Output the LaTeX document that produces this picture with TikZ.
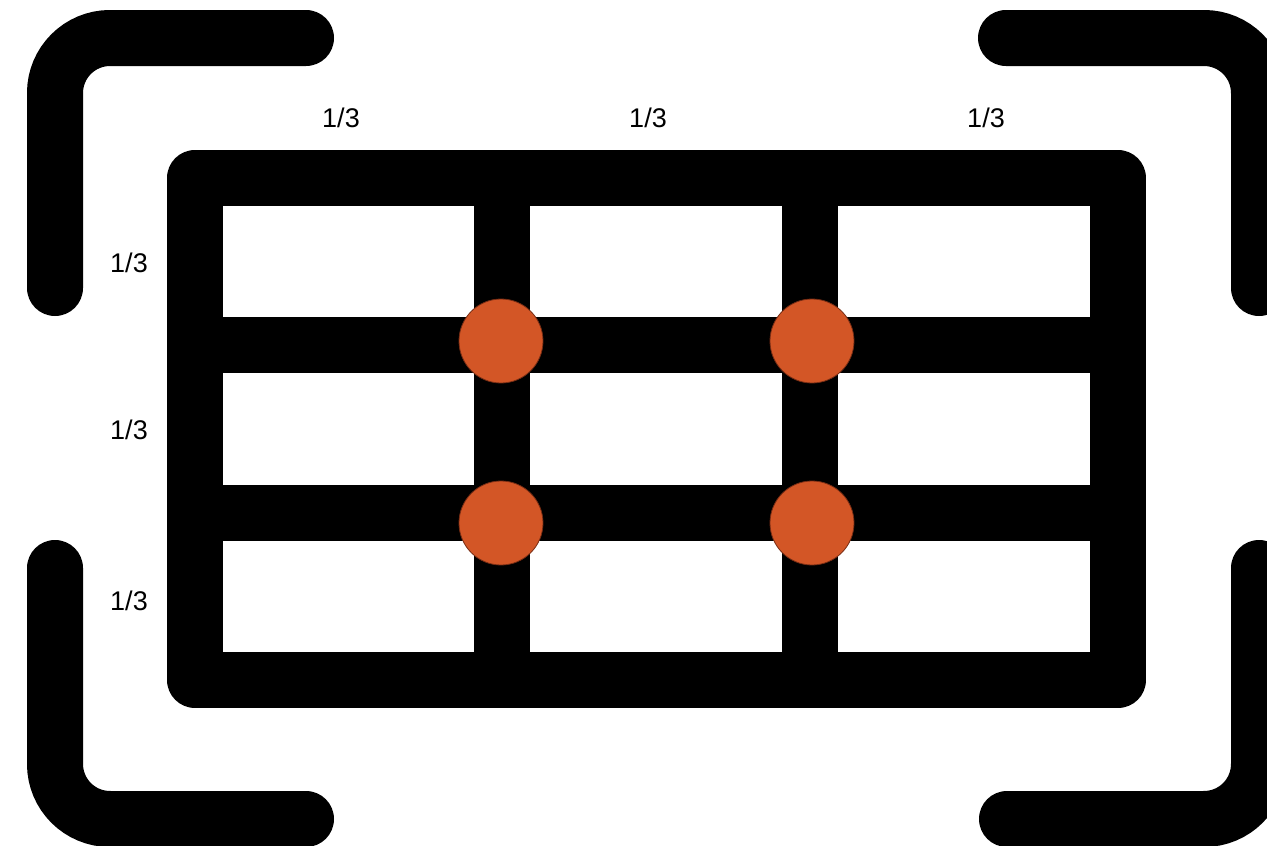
\documentclass[tikz,border=0pt]{standalone}
\usepackage{fontspec}
\setmainfont{Liberation Sans}
\usepackage{xcolor}
\definecolor{dotorange}{RGB}{211,86,38}
\definecolor{dotedge}{RGB}{120,45,20}

\begin{document}
\begin{tikzpicture}[x=1pt, y=-1pt,
    bracket/.style={line width=56pt, line cap=round, rounded corners=55pt},
    gridline/.style={line width=56pt, line join=round},
    third/.style={font=\fontsize{27}{32}\selectfont, inner sep=0pt},
    hotspot/.style={fill=dotorange, draw=dotedge, line width=0.8pt}]
    \useasboundingbox (0,0) rectangle (1267,846);

    % Corner brackets
    \draw[bracket] (55,288) -- (55,38) -- (306,38);
    \draw[bracket] (1006,38) -- (1259,38) -- (1259,288);
    \draw[bracket] (1259,568) -- (1259,819) -- (1007,819);
    \draw[bracket] (55,568) -- (55,819) -- (306,819);

    % Frame and thirds
    \draw[gridline] (195,178) rectangle (1118,680);
    \draw[gridline] (502,178) -- (502,680);
    \draw[gridline] (810,178) -- (810,680);
    \draw[gridline] (195,345) -- (1118,345);
    \draw[gridline] (195,513) -- (1118,513);

    % Intersections
    \filldraw[hotspot] (501,341) circle (42);
    \filldraw[hotspot] (812,341) circle (42);
    \filldraw[hotspot] (501,523) circle (42);
    \filldraw[hotspot] (812,523) circle (42);

    % Labels
    \node[third] (colA) at (341,118) {1/3};
    \node[third] (colB) at (648,118) {1/3};
    \node[third] (colC) at (986,118) {1/3};
    \node[third] (rowA) at (129,263) {1/3};
    \node[third] (rowB) at (129,430) {1/3};
    \node[third] (rowC) at (129,601) {1/3};
\end{tikzpicture}
\end{document}
